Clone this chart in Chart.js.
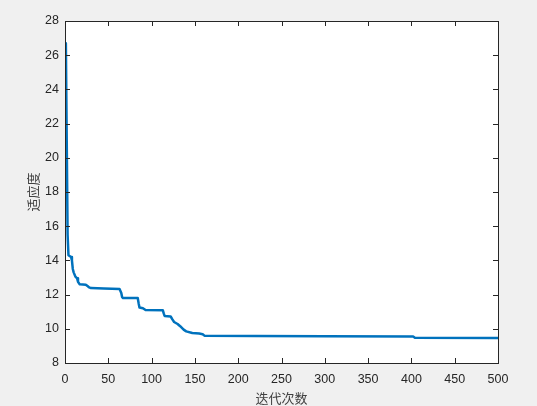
<!DOCTYPE html>
<html>
<head>
<meta charset="utf-8">
<script src="https://cdn.jsdelivr.net/npm/chart.js@4/dist/chart.umd.min.js"></script>
<style>
    html, body { margin: 0; padding: 0; background: #f0f0f0; }
    #box { width: 537px; height: 406px; }
</style>
</head>
<body>
<div id="box"><canvas id="fitChart"></canvas></div>
<script>
// iteration numbers and best fitness
const iters = [1, 2, 3, 4, 7, 8, 9, 10, 12, 14, 15, 17, 24, 26, 28, 30, 45, 63, 65, 66, 67,
    84, 85, 86, 90, 93, 113, 114, 115, 122, 124, 126, 130, 133, 137, 140, 147, 155, 159, 161,
    220, 300, 402, 404, 500];
const fitness = [26.7, 21.0, 15.5, 14.3, 14.2, 14.0, 13.5, 13.3, 13.05, 12.95, 12.75, 12.6, 12.58,
    12.5, 12.42, 12.38, 12.36, 12.33, 12.1, 11.85, 11.8, 11.8, 11.5, 11.25, 11.2, 11.1, 11.08,
    10.9, 10.75, 10.72, 10.55, 10.4, 10.28, 10.15, 9.95, 9.85, 9.75, 9.72, 9.68, 9.6, 9.58,
    9.56, 9.55, 9.48, 9.46];

const xLabel = "迭代次数";
const yLabel = "适应度";

const axisColor = "#262626";

// white plot area, box and inward ticks like the original figure
const boxPlugin = {
    id: "box",
    beforeDraw(chart) {
        const a = chart.chartArea;
        const ctx = chart.ctx;
        ctx.save();
        ctx.fillStyle = "#ffffff";
        ctx.fillRect(a.left, a.top, a.right - a.left, a.bottom - a.top);
        ctx.restore();
    },
    afterDraw(chart) {
        const a = chart.chartArea;
        const ctx = chart.ctx;
        const xs = chart.scales.x;
        const ys = chart.scales.y;
        const len = 5;
        ctx.save();
        ctx.strokeStyle = axisColor;
        ctx.lineWidth = 1;
        ctx.beginPath();
        xs.ticks.forEach(t => {
            const px = Math.round(xs.getPixelForValue(t.value)) + 0.5;
            ctx.moveTo(px, a.bottom);
            ctx.lineTo(px, a.bottom - len);
            ctx.moveTo(px, a.top);
            ctx.lineTo(px, a.top + len);
        });
        ys.ticks.forEach(t => {
            const py = Math.round(ys.getPixelForValue(t.value)) + 0.5;
            ctx.moveTo(a.left, py);
            ctx.lineTo(a.left + len, py);
            ctx.moveTo(a.right, py);
            ctx.lineTo(a.right - len, py);
        });
        ctx.stroke();
        ctx.strokeRect(Math.round(a.left) + 0.5, Math.round(a.top) + 0.5,
            Math.round(a.right - a.left), Math.round(a.bottom - a.top));
        ctx.restore();
    }
};

new Chart(document.getElementById("fitChart").getContext("2d"), {
    type: "scatter",
    data: {
        datasets: [
            {
                data: iters.map((x, i) => ({ x, y: fitness[i] })),
                showLine: true,
                borderColor: "#0072BD",
                borderWidth: 2.5,
                borderJoinStyle: "round",
                borderCapStyle: "round",
                pointRadius: 0,
                tension: 0
            }
        ]
    },
    plugins: [boxPlugin],
    options: {
        responsive: true,
        maintainAspectRatio: false,
        animation: false,
        layout: {
            padding: { left: 0, right: 39, top: 21, bottom: 0 }
        },
        plugins: {
            legend: { display: false },
            tooltip: { enabled: false }
        },
        scales: {
            x: {
                type: "linear",
                min: 0,
                max: 500,
                grid: { display: false, drawTicks: false },
                border: { display: false },
                ticks: {
                    stepSize: 50,
                    padding: 9,
                    color: axisColor,
                    font: { family: "Liberation Sans, Arial", size: 12.5 }
                },
                title: {
                    display: true,
                    text: xLabel,
                    color: "#404040",
                    padding: { top: 1, bottom: 0 },
                    font: { family: "Noto Sans CJK SC", size: 13 }
                },
                afterFit(scale) { scale.height = 43; }
            },
            y: {
                min: 8,
                max: 28,
                grid: { display: false, drawTicks: false },
                border: { display: false },
                ticks: {
                    stepSize: 2,
                    padding: 6,
                    color: axisColor,
                    font: { family: "Liberation Sans, Arial", size: 12.5 }
                },
                title: {
                    display: true,
                    text: yLabel,
                    color: "#404040",
                    padding: { top: 25, bottom: 0 },
                    font: { family: "Noto Sans CJK SC", size: 13 }
                },
                afterFit(scale) { scale.width = 65; }
            }
        }
    }
});
</script>
</body>
</html>
